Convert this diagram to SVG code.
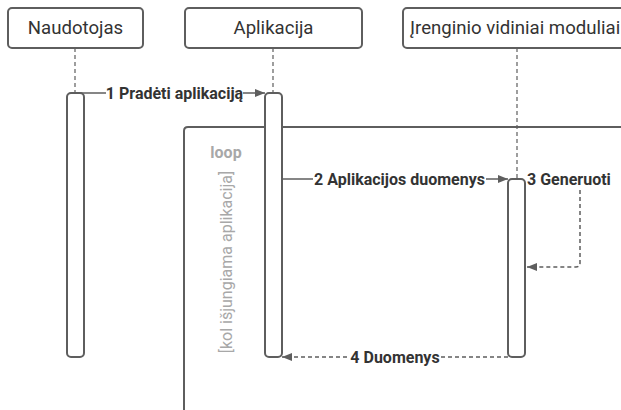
<svg xmlns="http://www.w3.org/2000/svg" width="621" height="410" viewBox="0 0 621 410">
  <style>
    .box { fill: #ffffff; stroke: #5e5e5e; stroke-width: 2; }
    .act { fill: #ffffff; stroke: #5e5e5e; stroke-width: 2; }
    .life { stroke: #5e5e5e; stroke-width: 1.2; stroke-dasharray: 4 3; fill: none; }
    .msg { stroke: #5e5e5e; stroke-width: 1.5; fill: none; }
    .ret { stroke: #5e5e5e; stroke-width: 1.5; fill: none; stroke-dasharray: 4 3; }
    .frame { stroke: #5e5e5e; stroke-width: 2; fill: none; }
    .name { font-family: Roboto, "Liberation Sans", Arial, sans-serif; font-size: 18.6px; fill: #333333; }
    .lbl { font-family: Roboto, "Liberation Sans", Arial, sans-serif; font-size: 16px; font-weight: bold; fill: #333333; }
    .grey { font-family: Roboto, "Liberation Sans", Arial, sans-serif; font-size: 16px; fill: #a8a8a8; }
    .bg { fill: #ffffff; }
  </style>
  <defs>
    <marker id="arrow" viewBox="0 0 10 10" refX="10" refY="5" markerWidth="10" markerHeight="10" markerUnits="userSpaceOnUse" orient="auto">
      <path d="M0,1 L10,5 L0,9 Z" fill="#5e5e5e"/>
    </marker>
  </defs>

  <!-- loop frame -->
  <g id="loop">
    <path class="frame" d="M184,410 L184,131 Q184,127 188,127 L621,127"/>
    <text class="grey" x="226" y="158" text-anchor="middle" font-weight="bold">loop</text>
    <text class="grey" transform="translate(232,262) rotate(-90)" text-anchor="middle">[kol išjungiama aplikacija]</text>
  </g>

  <!-- lifelines -->
  <g id="lifelines">
    <line class="life" x1="75" y1="48" x2="75" y2="93"/>
    <line class="life" x1="273" y1="48" x2="273" y2="93"/>
    <line class="life" x1="517" y1="48" x2="517" y2="179"/>
  </g>

  <g id="naudotojas">
    <rect class="box" x="8" y="8" width="135" height="40" rx="4"/>
    <text class="name" x="75.5" y="34" text-anchor="middle">Naudotojas</text>
    <rect class="act" x="67" y="93" width="17" height="264" rx="4"/>
  </g>

  <g id="aplikacija">
    <rect class="box" x="185" y="8" width="177" height="40" rx="4"/>
    <text class="name" x="273.5" y="34" text-anchor="middle">Aplikacija</text>
    <rect class="act" x="265" y="93" width="17" height="264" rx="4"/>
  </g>

  <g id="moduliai">
    <rect class="box" x="403" y="8" width="230" height="40" rx="4"/>
    <text class="name" x="410" y="34">Įrenginio vidiniai moduliai</text>
    <rect class="act" x="508" y="179" width="17" height="178" rx="4"/>
  </g>

  <!-- connectors -->
  <g id="connectors">
    <path class="msg" d="M75,93 L265,93" marker-end="url(#arrow)"/>
    <rect class="bg" x="106" y="84" width="137" height="18"/>
    <text class="lbl" x="174.5" y="98.5" text-anchor="middle">1 Pradėti aplikaciją</text>

    <path class="msg" d="M282,179 L508,179" marker-end="url(#arrow)"/>
    <rect class="bg" x="313" y="170" width="173" height="18"/>
    <text class="lbl" x="399.5" y="184.5" text-anchor="middle">2 Aplikacijos duomenys</text>

    <text class="lbl" x="527" y="184.5">3 Generuoti</text>
    <path class="ret" d="M580,190 L580,263 Q580,267 576,267 L527,267" marker-end="url(#arrow)"/>

    <path class="ret" d="M508,357 L282,357" marker-end="url(#arrow)"/>
    <rect class="bg" x="350" y="348" width="90" height="18"/>
    <text class="lbl" x="395" y="362.5" text-anchor="middle">4 Duomenys</text>
  </g>
</svg>
